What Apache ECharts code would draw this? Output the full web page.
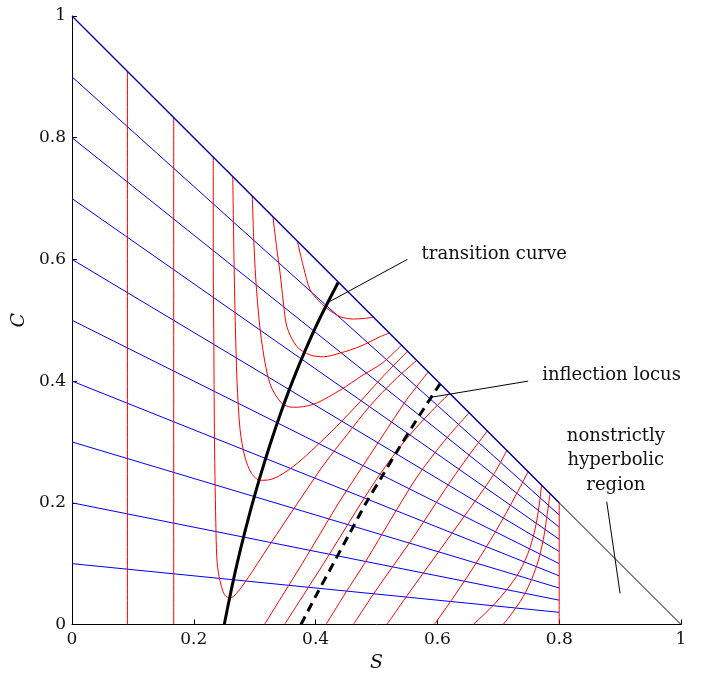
<!DOCTYPE html>
<html>
<head>
<meta charset="utf-8">
<script src="https://cdn.jsdelivr.net/npm/echarts@6/dist/echarts.min.js"></script>
<style>
  html, body { margin: 0; padding: 0; background: #fff; overflow: hidden; }
  #chart { width: 703px; height: 673px; }
</style>
</head>
<body>
<div id="chart"></div>
<script>
// Axis ticks
const sTicks = [0, 0.2, 0.4, 0.6, 0.8, 1];
const cTicks = [0, 0.2, 0.4, 0.6, 0.8, 1];

// Straight C-family lines: value of C at S = 0 and at S = 0.8
const blueStartC = [0.1, 0.2, 0.3, 0.4, 0.5, 0.6, 0.7, 0.8, 0.9];
const blueEndC = [0.02, 0.04, 0.06, 0.08, 0.10, 0.12, 0.14, 0.16, 0.18];
const blueEndS = 0.8;

// Boundary S + C = 1
const diagonalBlue = [[0, 1], [0.8, 0.2]];
const diagonalBlack = [[0, 1], [1, 0]];

// S-family integral curves, [S, C]
const redLeft = [
  [[0.091, 0], [0.091, 0.909]],
  [[0.167, 0], [0.167, 0.833]]
];
// Curves that turn near the transition curve
const redTurning = [
  [[0.232, 0.768], [0.232, 0.6], [0.233, 0.45], [0.234, 0.3], [0.2365, 0.15], [0.2385, 0.10], [0.243, 0.072], [0.248, 0.054], [0.253, 0.046], [0.259, 0.044], [0.265, 0.046], [0.270, 0.051], [0.281, 0.065], [0.30, 0.093], [0.32, 0.124], [0.352, 0.172], [0.385, 0.221], [0.413, 0.262], [0.45, 0.31], [0.49, 0.36], [0.53, 0.402], [0.566, 0.434]],
  [[0.264, 0.736], [0.266, 0.6], [0.268, 0.5], [0.271, 0.4], [0.276, 0.32], [0.284, 0.275], [0.295, 0.248], [0.309, 0.237], [0.325, 0.238], [0.345, 0.247], [0.37, 0.265], [0.40, 0.292], [0.435, 0.326], [0.473, 0.366], [0.511, 0.408], [0.551, 0.449]],
  [[0.296, 0.704], [0.299, 0.62], [0.303, 0.55], [0.311, 0.468], [0.325, 0.396], [0.344, 0.364], [0.362, 0.357], [0.38, 0.358], [0.402, 0.364], [0.44, 0.385], [0.478, 0.41], [0.51, 0.43], [0.541, 0.459]],
  [[0.33, 0.67], [0.336, 0.62], [0.342, 0.575], [0.347, 0.53], [0.353, 0.489], [0.369, 0.457], [0.391, 0.443], [0.413, 0.44], [0.44, 0.446], [0.473, 0.457], [0.506, 0.473], [0.521, 0.479]],
  [[0.37, 0.63], [0.38, 0.588], [0.391, 0.55], [0.405, 0.532], [0.418, 0.52], [0.44, 0.506], [0.462, 0.502], [0.48, 0.503], [0.495, 0.505]]
];
// Curves rising from C = 0 to the boundary
const redRising = [
  [[0.316, 0], [0.347, 0.05], [0.378, 0.1], [0.408, 0.15], [0.438, 0.2], [0.468, 0.246], [0.51, 0.31], [0.55, 0.37], [0.585, 0.415]],
  [[0.349, 0], [0.381, 0.05], [0.413, 0.1], [0.444, 0.15], [0.475, 0.2], [0.505, 0.246], [0.545, 0.3], [0.585, 0.345], [0.62, 0.38]],
  [[0.417, 0], [0.448, 0.05], [0.48, 0.1], [0.51, 0.15], [0.54, 0.2], [0.569, 0.246], [0.61, 0.3], [0.652, 0.348]],
  [[0.462, 0], [0.495, 0.05], [0.53, 0.1], [0.565, 0.15], [0.598, 0.2], [0.629, 0.246], [0.657, 0.285], [0.682, 0.318]],
  [[0.517, 0], [0.552, 0.05], [0.588, 0.1], [0.624, 0.15], [0.66, 0.2], [0.692, 0.246], [0.714, 0.286]],
  [[0.595, 0], [0.63, 0.05], [0.663, 0.1], [0.694, 0.15], [0.722, 0.2], [0.749, 0.251]],
  [[0.659, 0], [0.695, 0.035], [0.730, 0.079], [0.748, 0.115], [0.760, 0.155], [0.767, 0.195], [0.771, 0.229]],
  [[0.708, 0], [0.725, 0.022], [0.741, 0.046], [0.755, 0.075], [0.766, 0.106], [0.774, 0.14], [0.779, 0.172], [0.785, 0.215]],
  [[0.8, 0], [0.8, 0.2]]
];

// Transition curve (thick solid) and inflection locus (thick dashed)
const transitionCurve = [[0.250, 0], [0.2601, 0.05], [0.2711, 0.10], [0.2833, 0.15], [0.2965, 0.20], [0.311, 0.25], [0.3266, 0.30], [0.3436, 0.35], [0.3622, 0.40], [0.3828, 0.45], [0.4054, 0.50], [0.437, 0.562]];
const inflectionLocus = [[0.376, 0], [0.402, 0.05], [0.429, 0.1], [0.456, 0.15], [0.483, 0.2], [0.51, 0.245], [0.537, 0.29], [0.565, 0.335], [0.604, 0.395]];

// Annotation texts and leader lines
const labelFont = 'DejaVu Serif';
const annotations = [
  { lines: ['transition curve'], at: [0.574, 0.609], align: 'left', leader: [[0.4236, 0.531], [0.5506, 0.600]] },
  { lines: ['inflection locus'], at: [0.772, 0.409], align: 'left', leader: [[0.593, 0.374], [0.749, 0.400]] },
  { lines: ['nonstrictly', 'hyperbolic', 'region'], at: [0.893, 0.269], align: 'center', leader: [[0.878, 0.202], [0.900, 0.051]] }
];

const chart = echarts.init(document.getElementById('chart'), null, { renderer: 'canvas', width: 703, height: 673 });

const series = [];
blueStartC.forEach((c0, i) => {
  series.push({
    type: 'line', data: [[0, c0], [blueEndS, blueEndC[i]]],
    showSymbol: false, silent: true, lineStyle: { color: '#0000ff', width: 1 }, z: 2
  });
});
redLeft.concat(redTurning, redRising).forEach(curve => {
  series.push({
    type: 'line', data: curve, smooth: 0.3,
    showSymbol: false, silent: true, lineStyle: { color: '#ff0000', width: 1 }, z: 3
  });
});
series.push({
  type: 'line', data: diagonalBlack, showSymbol: false, silent: true,
  lineStyle: { color: '#000000', width: 1 }, z: 4
});
series.push({
  type: 'line', data: diagonalBlue, showSymbol: false, silent: true,
  lineStyle: { color: '#0000b0', width: 1.3 }, z: 5
});
series.push({
  type: 'line', data: transitionCurve, smooth: 0.3, showSymbol: false, silent: true,
  lineStyle: { color: '#000000', width: 3 }, z: 6
});
series.push({
  type: 'line', data: inflectionLocus, smooth: 0.3, showSymbol: false, silent: true,
  lineStyle: { color: '#000000', width: 3, type: [9, 6] }, z: 6
});
annotations.forEach(a => {
  series.push({
    type: 'line', data: a.leader, showSymbol: false, silent: true,
    lineStyle: { color: '#000000', width: 1 }, z: 7
  });
});

const fmt = v => (v === 0 ? '0' : v === 1 ? '1' : String(+v.toFixed(1)));

chart.setOption({
  animation: false,
  backgroundColor: '#ffffff',
  grid: { left: 72, top: 16, width: 609, height: 608.5, containLabel: false, outerBoundsMode: 'none' },
  xAxis: {
    type: 'value', min: sTicks[0], max: sTicks[sTicks.length - 1], interval: 0.2,
    name: 'S', nameLocation: 'middle', nameGap: 28,
    nameTextStyle: { fontFamily: labelFont, fontStyle: 'italic', fontSize: 19, color: '#111' },
    axisLine: { show: true, lineStyle: { color: '#000', width: 1 } },
    axisTick: { show: true, inside: true, length: 5, lineStyle: { color: '#000' } },
    axisLabel: { formatter: fmt, fontFamily: labelFont, fontSize: 17, color: '#111', margin: 7 },
    splitLine: { show: false }
  },
  yAxis: {
    type: 'value', min: cTicks[0], max: cTicks[cTicks.length - 1], interval: 0.2,
    name: 'C', nameLocation: 'middle', nameGap: 29, nameRotate: 90,
    nameTextStyle: { fontFamily: labelFont, fontStyle: 'italic', fontSize: 19, color: '#111' },
    axisLine: { show: true, lineStyle: { color: '#000', width: 1 } },
    axisTick: { show: true, inside: true, length: 5, lineStyle: { color: '#000' } },
    axisLabel: { formatter: fmt, fontFamily: labelFont, fontSize: 17, color: '#111', margin: 6 },
    splitLine: { show: false }
  },
  series: series
});

// Place annotation texts at their data positions
const graphics = [];
annotations.forEach(a => {
  const p = chart.convertToPixel({ gridIndex: 0 }, a.at);
  const lh = 24.5;
  a.lines.forEach((t, k) => {
    graphics.push({
      type: 'text', silent: true,
      x: p[0], y: p[1] + (k - (a.lines.length - 1) / 2) * lh,
      style: { text: t, fontFamily: labelFont, fontSize: 18, fill: '#111', align: a.align, verticalAlign: 'middle' }
    });
  });
});
chart.setOption({ graphic: graphics });
</script>
</body>
</html>
